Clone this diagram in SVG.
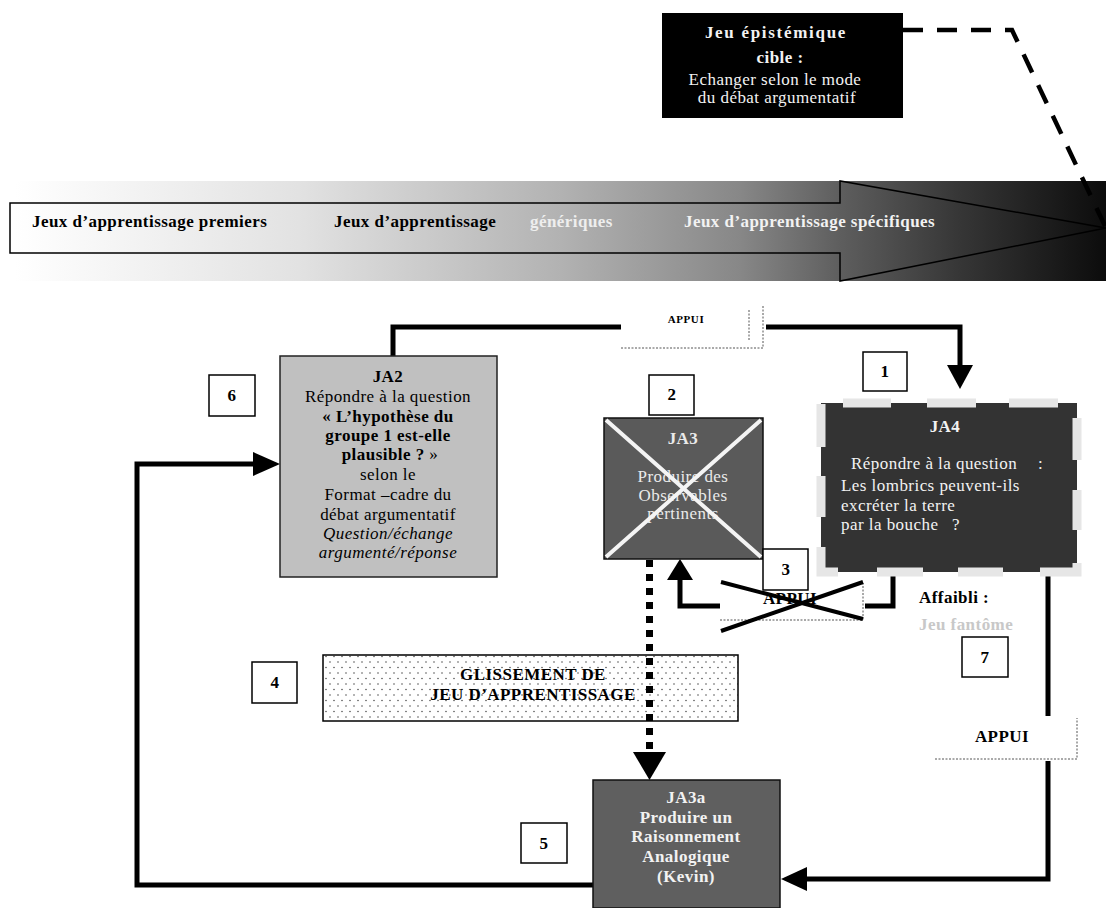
<svg xmlns="http://www.w3.org/2000/svg" width="1106" height="908" viewBox="0 0 1106 908">
<style>
.t{font-family:'Liberation Serif','Times New Roman',serif;font-size:17px;letter-spacing:0.45px}
.b{font-weight:bold}
.i{font-style:italic}
.c{text-anchor:middle}
.w{fill:#f2f2f2}
.num{fill:#fff;stroke:#000;stroke-width:1.5}
.conn{fill:none;stroke:#000;stroke-width:5}
.dotb{fill:none;stroke:#555;stroke-width:1;stroke-dasharray:2 1.5}
.ah{fill:#000}
.jd{stroke:#e6e6e6;stroke-width:9;fill:none}
</style>
<defs>
<linearGradient id="g" gradientUnits="userSpaceOnUse" x1="15" y1="0" x2="1106" y2="0">
<stop offset="0" stop-color="#ffffff"/>
<stop offset="0.26" stop-color="#e2e2e2"/>
<stop offset="0.5" stop-color="#b2b2b2"/>
<stop offset="0.665" stop-color="#878787"/>
<stop offset="0.756" stop-color="#5e5e5e"/>
<stop offset="0.866" stop-color="#363636"/>
<stop offset="1" stop-color="#0c0c0c"/>
</linearGradient>
<pattern id="dots" patternUnits="userSpaceOnUse" width="8" height="11">
<rect width="8" height="11" fill="#fff"/>
<circle cx="2" cy="2" r="0.8" fill="#555"/>
<circle cx="6" cy="7.5" r="0.8" fill="#555"/>
</pattern>
</defs>

<!-- Banner -->
<g id="banner">
<rect x="15" y="181" width="1091" height="100" fill="url(#g)"/>
<path d="M10,203 H840 V181 L1106,228 L840,281 V253 H10 Z" fill="none" stroke="#000" stroke-width="1.5"/>
<text class="t b" x="32" y="227">Jeux d’apprentissage premiers</text>
<text class="t b" x="334" y="227">Jeux d’apprentissage</text>
<text class="t b" x="530" y="227" fill="#eeeeee">génériques</text>
<text class="t b" x="684" y="227" fill="#f2f2f2">Jeux  d’apprentissage spécifiques</text>
</g>

<!-- Target game box -->
<g id="cible">
<rect x="662" y="13" width="241" height="105" fill="#000"/>
<text class="t b c w" x="776" y="38" style="letter-spacing:1.7px">Jeu épistémique</text>
<text class="t b c w" x="780" y="63">cible  :</text>
<text class="t c w" x="775" y="85">Echanger selon le mode</text>
<text class="t c w" x="777" y="103">du débat argumentatif</text>
</g>

<!-- Connectors -->
<g id="connectors">
<path d="M903,30 H1012 L1106,228" fill="none" stroke="#000" stroke-width="4.5" stroke-dasharray="20 14"/>
<!-- top: JA2 -> JA4 -->
<path class="conn" d="M393,356 V327 H621"/>
<path class="conn" d="M766,327 H960 V366"/>
<polygon class="ah" points="947,365 973,365 960,389"/>
<!-- left loop: JA3a -> JA2 -->
<path class="conn" d="M593,885 H137 V464 H254"/>
<polygon class="ah" points="253,452 253,476 280,464"/>
<!-- JA4 -> JA3 (crossed) -->
<path class="conn" d="M893,570 V606 H865"/>
<path class="conn" d="M720,606 H680 V578"/>
<polygon class="ah" points="667,580 693,580 680,559"/>
<!-- JA4 -> JA3a -->
<path class="conn" d="M1048,570 V716"/>
<path class="conn" d="M1048,761 V879 H806"/>
<polygon class="ah" points="807,867 807,891 781,879"/>
</g>

<!-- JA2 -->
<g id="ja2">
<rect x="280" y="356" width="217" height="221" fill="#c0c0c0" stroke="#222" stroke-width="1.5"/>
<text class="t b c" x="388" y="382">JA2</text>
<text class="t c" x="388" y="402">Répondre à la question</text>
<text class="t b c" x="388" y="422">« L’hypothèse du</text>
<text class="t b c" x="388" y="441">groupe 1 est-elle</text>
<text class="t c" x="390" y="460"><tspan class="b">plausible  ? </tspan>»</text>
<text class="t c" x="388" y="480">selon le</text>
<text class="t c" x="388" y="500">Format –cadre du</text>
<text class="t c" x="388" y="520">débat argumentatif</text>
<text class="t i c" x="388" y="539">Question/échange</text>
<text class="t i c" x="388" y="558">argumenté/réponse</text>
</g>

<!-- JA3 (crossed) -->
<g id="ja3">
<rect x="604" y="418" width="159" height="141" fill="#5a5a5a" stroke="#111" stroke-width="1.5"/>
<text class="t b c" x="683" y="444" fill="#eaeaea">JA3</text>
<text class="t c" x="683" y="482" fill="#eaeaea">Produire des</text>
<text class="t c" x="683" y="501" fill="#eaeaea">Observables</text>
<text class="t c" x="683" y="519" fill="#eaeaea">pertinents</text>
<path d="M606,420 L761,557 M761,420 L606,557" stroke="#f4f4f4" stroke-width="4"/>
</g>

<!-- JA4 -->
<g id="ja4">
<rect x="821" y="403" width="256" height="169" fill="#333"/>
<path class="jd" d="M843,403 H891 M927,403 H976 M1009,403 H1058 M1077,418 V460 M1077,490 V530 M1077,563 V572 H1040 M1003,572 H958 M923,572 H877 M838,572 H821 V547 M821,517 V476 M821,447 V404"/>
<text class="t b c w" x="945" y="432">JA4</text>
<text class="t w" x="851" y="469">Répondre à la question<tspan x="1038">:</tspan></text>
<text class="t w" x="841" y="491">Les lombrics peuvent-ils</text>
<text class="t w" x="841" y="511">excréter la terre</text>
<text class="t w" x="841" y="530">par la bouche<tspan x="952">?</tspan></text>
</g>

<!-- JA3a -->
<g id="ja3a">
<rect x="593" y="780" width="187" height="128" fill="#5f5f5f" stroke="#111" stroke-width="1.5"/>
<text class="t b c w" x="686" y="803">JA3a</text>
<text class="t b c w" x="686" y="823">Produire un</text>
<text class="t b c w" x="686" y="842">Raisonnement</text>
<text class="t b c w" x="686" y="862">Analogique</text>
<text class="t b c w" x="686" y="882">(Kevin)</text>
</g>

<!-- Glissement -->
<g id="glissement">
<rect x="323" y="655" width="415" height="66" fill="url(#dots)" stroke="#000" stroke-width="1.5"/>
<text class="t b c" x="533" y="680">GLISSEMENT DE</text>
<text class="t b c" x="533" y="700">JEU D’APPRENTISSAGE</text>
</g>

<!-- dotted connector JA3 -> JA3a (drawn over the glissement box) -->
<g id="connector-glissement">
<path d="M649.5,560 V752" fill="none" stroke="#000" stroke-width="7" stroke-dasharray="7 7"/>
<polygon class="ah" points="633,752 666,752 649.5,780"/>
</g>

<!-- APPUI labels -->
<g id="appui-top">
<rect x="621" y="305" width="142" height="43" fill="#fff"/>
<path class="dotb" d="M621,348 H763 V305 M749,310 V340"/>
<text class="t b c" x="686" y="323" style="font-size:11px;letter-spacing:0.6px">APPUI</text>
</g>
<g id="appui-crossed">
<rect x="720" y="583" width="143" height="37" fill="#fff"/>
<path class="dotb" d="M720,620 H863 V583"/>
<text class="t b c" x="790" y="604">APPUI</text>
<path d="M721,582 L863,619 M721,631 L863,582" stroke="#000" stroke-width="4"/>
</g>
<g id="appui-right">
<rect x="935" y="718" width="142" height="41" fill="#fff"/>
<path class="dotb" d="M935,759 H1077 V718"/>
<text class="t b c" x="1002" y="742">APPUI</text>
</g>

<!-- Affaibli label -->
<g id="affaibli">
<text class="t b" x="919" y="603">Affaibli  :</text>
<text class="t b" x="919" y="630" fill="#c8c8c8">Jeu fantôme</text>
</g>

<!-- Number boxes -->
<g id="n1"><rect class="num" x="863" y="352" width="44" height="39"/><text class="t b c" x="885" y="377">1</text></g>
<g id="n2"><rect class="num" x="649" y="375" width="45" height="40"/><text class="t b c" x="672" y="400">2</text></g>
<g id="n3"><rect class="num" x="763" y="549" width="45" height="41"/><text class="t b c" x="786" y="575">3</text></g>
<g id="n4"><rect class="num" x="252" y="662" width="45" height="41"/><text class="t b c" x="275" y="688">4</text></g>
<g id="n5"><rect class="num" x="521" y="823" width="46" height="40"/><text class="t b c" x="544" y="849">5</text></g>
<g id="n6"><rect class="num" x="209" y="375" width="46" height="41"/><text class="t b c" x="232" y="401">6</text></g>
<g id="n7"><rect class="num" x="962" y="637" width="46" height="40"/><text class="t b c" x="985" y="663">7</text></g>
</svg>
